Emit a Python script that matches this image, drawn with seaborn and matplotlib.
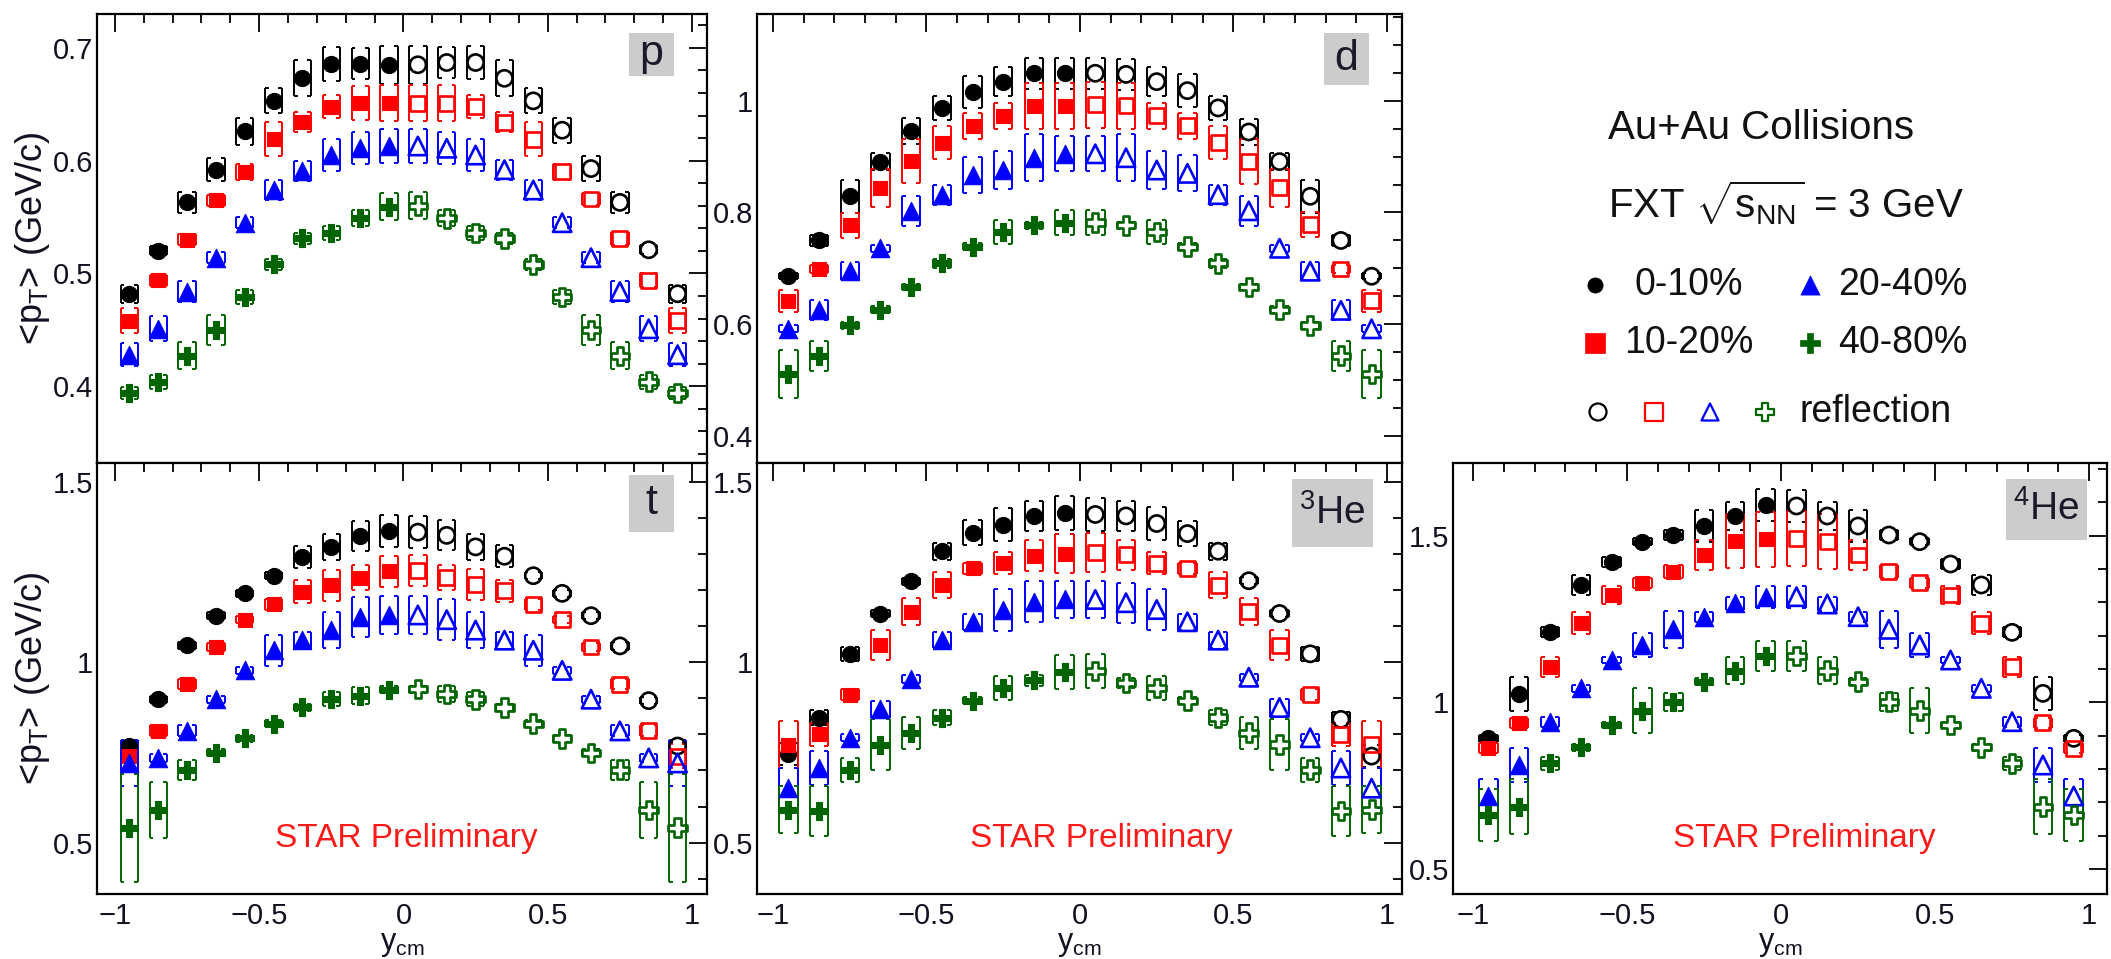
import numpy as np
import pandas as pd
import seaborn as sns
import matplotlib.pyplot as plt
from matplotlib.ticker import MultipleLocator, FuncFormatter
from matplotlib.patches import Rectangle

# rapidity bins: y<0 measured, y>0 reflection
y_cm = [-0.95, -0.85, -0.75, -0.65, -0.55, -0.45, -0.35, -0.25, -0.15, -0.05,
        0.05, 0.15, 0.25, 0.35, 0.45, 0.55, 0.65, 0.75, 0.85, 0.95]

centralities = ["0-10%", "10-20%", "20-40%", "40-80%"]

# <pT> values and systematic errors (GeV/c)
p_0_10 = [0.482, 0.520, 0.563, 0.592, 0.626, 0.653, 0.673, 0.686, 0.686, 0.685,
          0.685, 0.687, 0.687, 0.673, 0.653, 0.627, 0.593, 0.563, 0.521, 0.482]
p_0_10_sys = [0.008, 0.004, 0.009, 0.010, 0.012, 0.011, 0.016, 0.015, 0.014, 0.017,
              0.017, 0.014, 0.015, 0.016, 0.011, 0.011, 0.011, 0.009, 0.004, 0.008]
p_10_20 = [0.458, 0.494, 0.530, 0.565, 0.590, 0.619, 0.634, 0.648, 0.651, 0.651,
           0.651, 0.651, 0.648, 0.634, 0.619, 0.590, 0.566, 0.531, 0.494, 0.458]
p_10_20_sys = [0.011, 0.005, 0.005, 0.005, 0.007, 0.015, 0.009, 0.010, 0.015, 0.016,
               0.016, 0.016, 0.010, 0.009, 0.015, 0.007, 0.005, 0.006, 0.006, 0.011]
p_20_40 = [0.428, 0.451, 0.484, 0.514, 0.545, 0.574, 0.591, 0.605, 0.611, 0.613,
           0.613, 0.611, 0.605, 0.592, 0.574, 0.545, 0.514, 0.484, 0.451, 0.428]
p_20_40_sys = [0.010, 0.011, 0.009, 0.005, 0.005, 0.009, 0.009, 0.014, 0.014, 0.015,
               0.015, 0.014, 0.014, 0.009, 0.009, 0.005, 0.005, 0.009, 0.011, 0.010]
p_40_80 = [0.394, 0.404, 0.427, 0.450, 0.479, 0.508, 0.531, 0.536, 0.549, 0.559,
           0.560, 0.549, 0.536, 0.531, 0.508, 0.479, 0.450, 0.427, 0.404, 0.394]
p_40_80_sys = [0.005, 0.006, 0.012, 0.013, 0.006, 0.005, 0.005, 0.006, 0.007, 0.012,
               0.012, 0.007, 0.006, 0.005, 0.005, 0.006, 0.013, 0.012, 0.006, 0.005]

d_0_10 = [0.686, 0.750, 0.829, 0.891, 0.946, 0.987, 1.016, 1.034, 1.049, 1.049,
          1.049, 1.047, 1.034, 1.018, 0.987, 0.944, 0.891, 0.829, 0.750, 0.686]
d_0_10_sys = [0.005, 0.010, 0.030, 0.015, 0.023, 0.022, 0.029, 0.026, 0.028, 0.028,
              0.028, 0.028, 0.026, 0.029, 0.022, 0.023, 0.015, 0.030, 0.010, 0.005]
d_10_20 = [0.642, 0.699, 0.777, 0.844, 0.892, 0.925, 0.955, 0.973, 0.991, 0.991,
           0.993, 0.991, 0.973, 0.955, 0.925, 0.891, 0.844, 0.778, 0.699, 0.642]
d_10_20_sys = [0.020, 0.008, 0.022, 0.034, 0.040, 0.029, 0.023, 0.023, 0.041, 0.041,
               0.041, 0.041, 0.023, 0.023, 0.029, 0.040, 0.034, 0.022, 0.008, 0.020]
d_20_40 = [0.592, 0.625, 0.695, 0.736, 0.803, 0.832, 0.867, 0.876, 0.898, 0.905,
           0.905, 0.898, 0.876, 0.870, 0.832, 0.803, 0.736, 0.695, 0.625, 0.592]
d_20_40_sys = [0.006, 0.018, 0.016, 0.006, 0.027, 0.018, 0.032, 0.034, 0.042, 0.031,
               0.031, 0.042, 0.034, 0.032, 0.018, 0.027, 0.006, 0.016, 0.018, 0.006]
d_40_80 = [0.511, 0.544, 0.598, 0.626, 0.667, 0.709, 0.739, 0.765, 0.777, 0.782,
           0.782, 0.777, 0.765, 0.739, 0.709, 0.667, 0.626, 0.598, 0.544, 0.511]
d_40_80_sys = [0.043, 0.027, 0.006, 0.006, 0.006, 0.008, 0.006, 0.022, 0.006, 0.022,
               0.022, 0.006, 0.022, 0.006, 0.008, 0.006, 0.006, 0.006, 0.027, 0.043]

t_0_10 = [0.768, 0.898, 1.048, 1.130, 1.192, 1.241, 1.293, 1.321, 1.351, 1.365,
          1.362, 1.353, 1.321, 1.295, 1.241, 1.192, 1.130, 1.046, 0.894, 0.768]
t_0_10_sys = [0.010, 0.010, 0.010, 0.010, 0.010, 0.010, 0.030, 0.037, 0.042, 0.045,
              0.045, 0.042, 0.037, 0.030, 0.010, 0.010, 0.010, 0.010, 0.010, 0.010]
t_10_20 = [0.740, 0.810, 0.940, 1.043, 1.119, 1.162, 1.197, 1.215, 1.236, 1.253,
           1.256, 1.237, 1.217, 1.199, 1.162, 1.119, 1.043, 0.940, 0.810, 0.740]
t_10_20_sys = [0.033, 0.015, 0.015, 0.012, 0.010, 0.015, 0.031, 0.043, 0.035, 0.043,
               0.043, 0.035, 0.043, 0.031, 0.015, 0.010, 0.012, 0.015, 0.015, 0.033]
t_20_40 = [0.721, 0.735, 0.810, 0.898, 0.978, 1.034, 1.062, 1.090, 1.127, 1.132,
           1.132, 1.119, 1.090, 1.062, 1.034, 0.978, 0.898, 0.810, 0.735, 0.721]
t_20_40_sys = [0.063, 0.012, 0.015, 0.010, 0.010, 0.043, 0.024, 0.049, 0.056, 0.052,
               0.052, 0.056, 0.049, 0.024, 0.043, 0.010, 0.010, 0.015, 0.012, 0.063]
t_40_80 = [0.541, 0.590, 0.702, 0.749, 0.789, 0.830, 0.875, 0.898, 0.908, 0.924,
           0.926, 0.912, 0.898, 0.875, 0.830, 0.789, 0.749, 0.702, 0.590, 0.541]
t_40_80_sys = [0.150, 0.077, 0.028, 0.010, 0.010, 0.010, 0.010, 0.020, 0.023, 0.010,
               0.010, 0.023, 0.020, 0.010, 0.010, 0.010, 0.010, 0.028, 0.077, 0.150]

he3_0_10 = [0.745, 0.847, 1.024, 1.136, 1.225, 1.309, 1.360, 1.383, 1.407, 1.414,
            1.411, 1.407, 1.386, 1.358, 1.309, 1.227, 1.136, 1.024, 0.842, 0.740]
he3_0_10_sys = [0.030, 0.020, 0.020, 0.010, 0.010, 0.024, 0.035, 0.047, 0.042, 0.047,
                0.047, 0.042, 0.047, 0.035, 0.024, 0.010, 0.010, 0.020, 0.020, 0.030]
he3_10_20 = [0.772, 0.800, 0.910, 1.048, 1.141, 1.215, 1.262, 1.276, 1.297, 1.302,
             1.306, 1.299, 1.276, 1.262, 1.215, 1.141, 1.048, 0.910, 0.800, 0.772]
he3_10_20_sys = [0.065, 0.033, 0.015, 0.042, 0.037, 0.037, 0.015, 0.030, 0.042, 0.054,
                 0.054, 0.042, 0.030, 0.015, 0.037, 0.037, 0.042, 0.015, 0.033, 0.065]
he3_20_40 = [0.651, 0.707, 0.791, 0.870, 0.954, 1.062, 1.113, 1.146, 1.169, 1.175,
             1.175, 1.166, 1.147, 1.113, 1.062, 0.959, 0.875, 0.791, 0.707, 0.651]
he3_20_40_sys = [0.056, 0.047, 0.010, 0.023, 0.010, 0.023, 0.023, 0.058, 0.056, 0.051,
                 0.051, 0.056, 0.058, 0.023, 0.023, 0.010, 0.023, 0.010, 0.047, 0.056]
he3_40_80 = [0.591, 0.588, 0.702, 0.772, 0.805, 0.847, 0.894, 0.929, 0.950, 0.973,
             0.976, 0.943, 0.929, 0.894, 0.847, 0.805, 0.772, 0.702, 0.588, 0.591]
he3_40_80_sys = [0.065, 0.070, 0.034, 0.072, 0.044, 0.020, 0.010, 0.034, 0.015, 0.047,
                 0.047, 0.015, 0.034, 0.010, 0.020, 0.044, 0.072, 0.034, 0.070, 0.065]

he4_0_10 = [0.892, 1.025, 1.212, 1.352, 1.422, 1.482, 1.502, 1.529, 1.559, 1.592,
            1.589, 1.559, 1.529, 1.502, 1.482, 1.415, 1.352, 1.210, 1.027, 0.892]
he4_0_10_sys = [0.010, 0.050, 0.015, 0.029, 0.015, 0.010, 0.015, 0.047, 0.042, 0.048,
                0.048, 0.042, 0.047, 0.015, 0.010, 0.015, 0.029, 0.015, 0.050, 0.010]
he4_10_20 = [0.862, 0.939, 1.107, 1.237, 1.322, 1.359, 1.392, 1.442, 1.484, 1.489,
             1.492, 1.482, 1.442, 1.392, 1.359, 1.322, 1.237, 1.107, 0.939, 0.862]
he4_10_20_sys = [0.015, 0.015, 0.030, 0.033, 0.028, 0.015, 0.020, 0.045, 0.082, 0.082,
                 0.082, 0.082, 0.045, 0.020, 0.015, 0.028, 0.033, 0.030, 0.015, 0.015]
he4_20_40 = [0.719, 0.812, 0.942, 1.042, 1.127, 1.172, 1.219, 1.257, 1.297, 1.317,
             1.317, 1.295, 1.257, 1.219, 1.172, 1.127, 1.042, 0.942, 0.812, 0.719]
he4_20_40_sys = [0.050, 0.050, 0.015, 0.010, 0.010, 0.036, 0.056, 0.015, 0.020, 0.033,
                 0.033, 0.020, 0.015, 0.056, 0.036, 0.010, 0.010, 0.015, 0.050, 0.050]
he4_40_80 = [0.662, 0.687, 0.817, 0.865, 0.932, 0.975, 1.002, 1.062, 1.095, 1.139,
             1.139, 1.095, 1.062, 1.002, 0.975, 0.932, 0.865, 0.817, 0.687, 0.662]
he4_40_80_sys = [0.078, 0.082, 0.020, 0.010, 0.010, 0.067, 0.027, 0.010, 0.040, 0.045,
                 0.045, 0.040, 0.010, 0.027, 0.067, 0.010, 0.010, 0.020, 0.082, 0.078]

panel_data = {
    "p": [(p_0_10, p_0_10_sys), (p_10_20, p_10_20_sys), (p_20_40, p_20_40_sys), (p_40_80, p_40_80_sys)],
    "d": [(d_0_10, d_0_10_sys), (d_10_20, d_10_20_sys), (d_20_40, d_20_40_sys), (d_40_80, d_40_80_sys)],
    "t": [(t_0_10, t_0_10_sys), (t_10_20, t_10_20_sys), (t_20_40, t_20_40_sys), (t_40_80, t_40_80_sys)],
    "3He": [(he3_0_10, he3_0_10_sys), (he3_10_20, he3_10_20_sys), (he3_20_40, he3_20_40_sys), (he3_40_80, he3_40_80_sys)],
    "4He": [(he4_0_10, he4_0_10_sys), (he4_10_20, he4_10_20_sys), (he4_20_40, he4_20_40_sys), (he4_40_80, he4_40_80_sys)],
}

list_df = []
for particle, series in panel_data.items():
    for cent, (vals, sys) in zip(centralities, series):
        list_df.append(pd.DataFrame({
            "particle": particle, "cent": cent, "y": y_cm, "pt": vals, "sys": sys,
        }))
df = pd.concat(list_df, ignore_index=True)

# styles
colors = {"0-10%": "black", "10-20%": "#ff0000", "20-40%": "#0000ff", "40-80%": "#006400"}
markers = {"0-10%": "o", "10-20%": "s", "20-40%": "^", "40-80%": "P"}
msize = {"0-10%": 135, "10-20%": 115, "20-40%": 175, "40-80%": 180}

sns.set_style("white")
plt.rcParams['font.family'] = ['Liberation Sans', 'DejaVu Sans']
plt.rcParams['mathtext.fontset'] = 'custom'
plt.rcParams['mathtext.rm'] = 'Liberation Sans'
plt.rcParams['mathtext.it'] = 'Liberation Sans:italic'
plt.rcParams['axes.unicode_minus'] = True

W, H = 2111, 959
fig = plt.figure(figsize=(W / 100, H / 100), dpi=100)


def rect(l, r, t, b):
    return [l / W, 1 - b / H, (r - l) / W, (b - t) / H]


# name, axes box (px), ylim, major, minor, bottom labels, ylabel
panels = [
    ("p", rect(97, 707, 14, 463), (0.332, 0.730), 0.1, 0.02, False, True),
    ("d", rect(757, 1402, 14, 463), (0.352, 1.155), 0.2, 0.05, False, False),
    ("t", rect(97, 707, 463, 894), (0.357, 1.554), 0.5, 0.1, True, True),
    ("3He", rect(757, 1402, 463, 894), (0.357, 1.554), 0.5, 0.1, True, False),
    ("4He", rect(1453, 2107, 463, 894), (0.425, 1.718), 0.5, 0.1, True, False),
]
xlims = {"p": (-1.062, 1.052), "t": (-1.062, 1.052), "d": (-1.052, 1.049),
         "3He": (-1.052, 1.049), "4He": (-1.065, 1.058)}
star_pos = {"t": (0.01, 0.51), "3He": (0.07, 0.51), "4He": (0.076, 0.59)}

hw, cap = 0.03, 0.013
tick_col = "#111122"

axes = {}
for name, box, ylim, major, minor, xlab, ylab in panels:
    ax = fig.add_axes(box)
    axes[name] = ax
    sel = df[df["particle"] == name]
    for cent in centralities:
        c = colors[cent]
        sub = sel[sel["cent"] == cent]
        x = sub["y"].to_numpy()
        lo = (sub["pt"] - sub["sys"]).to_numpy()
        hi = (sub["pt"] + sub["sys"]).to_numpy()
        # systematic brackets [ ]
        ax.vlines(x - hw, lo, hi, color=c, lw=1.4, zorder=2)
        ax.vlines(x + hw, lo, hi, color=c, lw=1.4, zorder=2)
        for yy in (lo, hi):
            ax.hlines(yy, x - hw, x - hw + cap, color=c, lw=1.4, zorder=2)
            ax.hlines(yy, x + hw - cap, x + hw, color=c, lw=1.4, zorder=2)
        meas = sub[sub["y"] < 0]
        refl = sub[sub["y"] > 0]
        sns.scatterplot(data=meas, x="y", y="pt", marker=markers[cent], s=msize[cent],
                        color=c, edgecolor=c, linewidth=0.8, ax=ax, zorder=4, legend=False)
        sns.scatterplot(data=refl, x="y", y="pt", marker=markers[cent], s=msize[cent],
                        color=c, facecolor="none", edgecolor=c, linewidth=1.9, ax=ax,
                        zorder=4, legend=False)

    ax.set_xlim(*xlims[name])
    ax.set_ylim(*ylim)
    ax.xaxis.set_major_locator(MultipleLocator(0.5))
    ax.xaxis.set_minor_locator(MultipleLocator(0.1))
    ax.yaxis.set_major_locator(MultipleLocator(major))
    ax.yaxis.set_minor_locator(MultipleLocator(minor))
    fmt = FuncFormatter(lambda v, pos: f"{v:g}".replace("-", "\u2212"))
    ax.xaxis.set_major_formatter(fmt)
    ax.yaxis.set_major_formatter(fmt)
    ax.tick_params(axis="both", which="both", direction="in", top=True, right=True,
                   color="black", labelcolor=tick_col, labelsize=21)
    ax.tick_params(which="major", length=13, width=1.3)
    ax.tick_params(which="minor", length=6.5, width=1.3)
    ax.tick_params(axis="y", pad=3)
    ax.tick_params(axis="x", pad=6, labelbottom=xlab)
    for sp in ax.spines.values():
        sp.set_linewidth(1.6)
        sp.set_color("black")
    ax.set_xlabel("")
    ax.set_ylabel("")
    if ylab:
        ax.text(-0.106, 0.5, r"<p$_{\rm T}$> (GeV/c)", transform=ax.transAxes,
                rotation=90, ha="center", va="center", fontsize=26, color=tick_col)
    if xlab:
        ax.text(0.5, -0.115, r"y$_{\rm cm}$", transform=ax.transAxes,
                ha="center", va="center", fontsize=22, color=tick_col)
    if name in star_pos:
        sx, sy = star_pos[name]
        ax.text(sx, sy, "STAR Preliminary", ha="center", va="center",
                fontsize=24, color="#ff1a1a", zorder=5)

# overlay in pixel coordinates for particle tags and the legend block
lax = fig.add_axes([0, 0, 1, 1])
lax.set_xlim(0, W)
lax.set_ylim(H, 0)
lax.axis("off")
lax.set_facecolor("none")

tags = [("p", 629, 33, 674, 76, 31), ("d", 1324, 33, 1369, 85, 31),
        ("t", 629, 475, 674, 532, 31), (r"$^{3}$He", 1292, 479, 1373, 547, 28),
        (r"$^{4}$He", 2006, 479, 2087, 540, 28)]
for txt, x0, y0, x1, y1, fs in tags:
    lax.add_patch(Rectangle((x0, y0), x1 - x0, y1 - y0, facecolor="#cccccc",
                            edgecolor="none", zorder=1))
    lax.text((x0 + x1) / 2, (y0 + y1) / 2, txt, ha="center", va="center",
             fontsize=fs, color="#1a1a2a", zorder=2)

lax.text(1608, 128, "Au+Au Collisions", ha="left", va="center", fontsize=29, color="#111111")
lax.text(1608, 203, r"FXT $\sqrt{\mathrm{s}_{\mathrm{NN}}}$ = 3 GeV", ha="left", va="center",
         fontsize=29, color="#111111")

leg_rows = [("0-10%", 1595, 285, 1634), ("20-40%", 1810, 285, 1838),
            ("10-20%", 1595, 343, 1624), ("40-80%", 1810, 343, 1838)]
leg_size = {"0-10%": 120, "10-20%": 200, "20-40%": 190, "40-80%": 190}
for cent, mx, my, tx in leg_rows:
    c = colors[cent]
    lax.scatter([mx], [my], marker=markers[cent], s=leg_size[cent], color=c,
                edgecolor=c, linewidth=0.5)
    lax.text(tx, my, cent, ha="left", va="center", fontsize=27, color="#111111")

for cent, mx in zip(centralities, [1598, 1654, 1710, 1765]):
    c = colors[cent]
    lax.scatter([mx], [412], marker=markers[cent], s=150, color=c, facecolor="none",
                edgecolor=c, linewidth=1.6)
lax.text(1799, 412, "reflection", ha="left", va="center", fontsize=27, color="#111111")

plt.savefig("out.png", dpi=100)
